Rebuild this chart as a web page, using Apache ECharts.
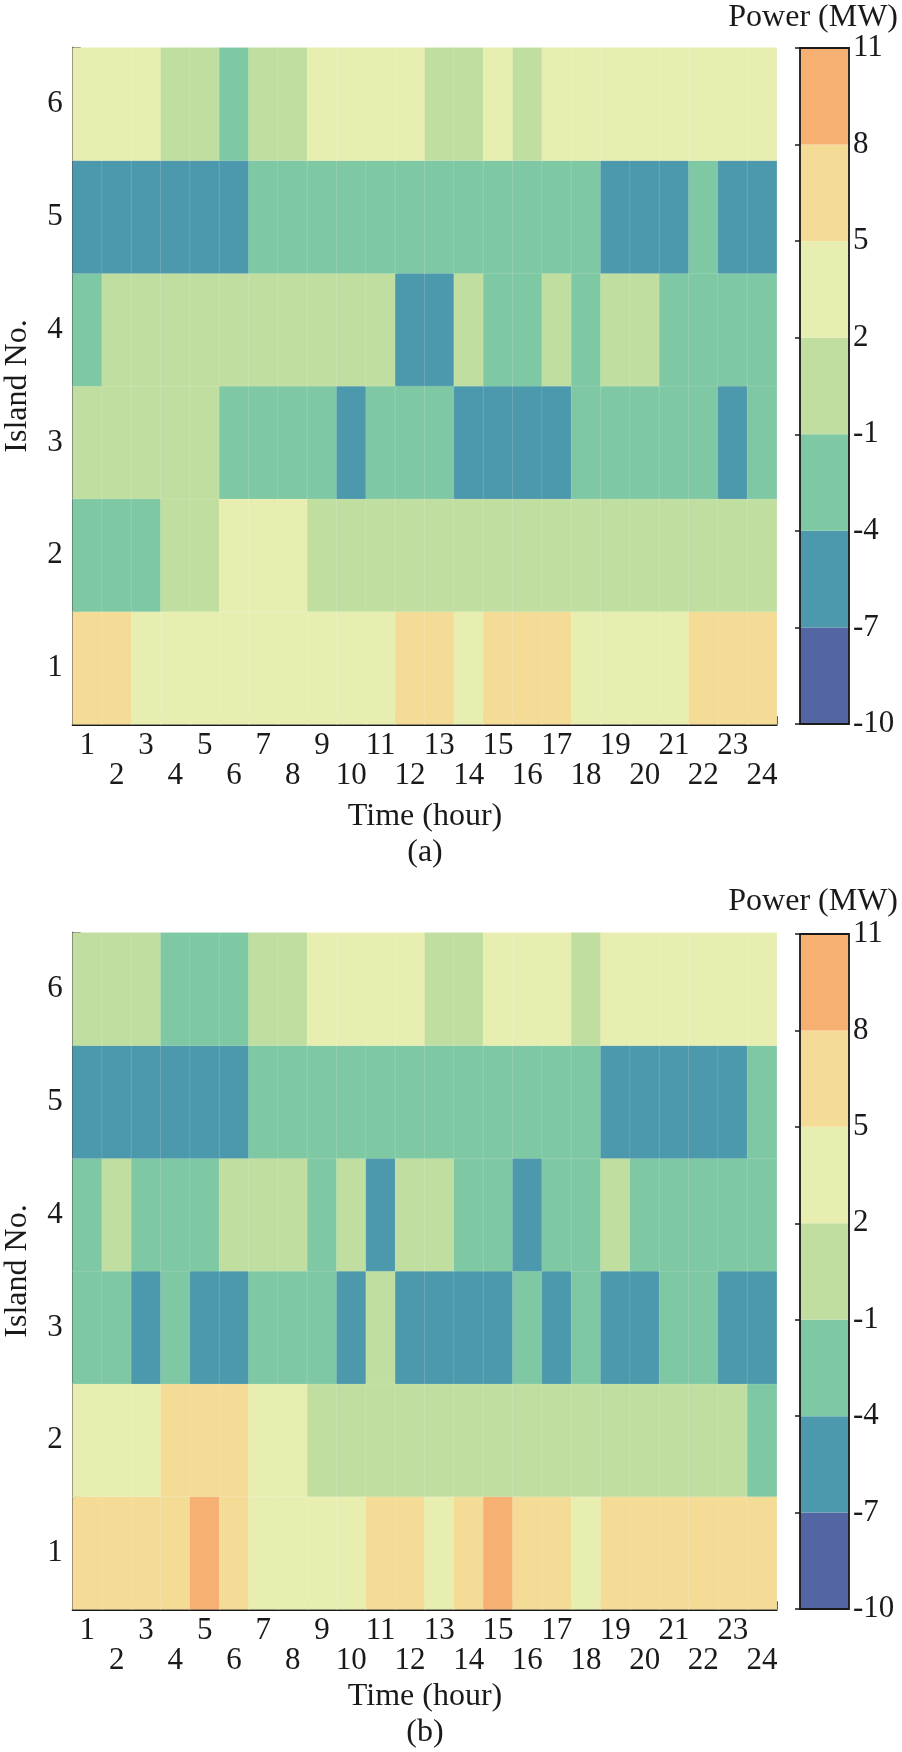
<!DOCTYPE html>
<html><head><meta charset="utf-8">
<script src="https://cdn.jsdelivr.net/npm/echarts@6/dist/echarts.min.js"></script>
<style>html,body{margin:0;padding:0;background:#fff}#c{width:902px;height:1752px}</style>
</head><body><div id="c"></div>
<script>
// ---- categories ----
const hours = ['1','2','3','4','5','6','7','8','9','10','11','12','13','14','15','16','17','18','19','20','21','22','23','24'];
const islands = ['1','2','3','4','5','6'];
// ---- colour scale (bin edges, MW) ----
const binEdges = [-10, -7, -4, -1, 2, 5, 8, 11];
const binColors = ['#5366a3', '#4c98ac', '#7ec8a4', '#c0dea0', '#e8eeb0', '#f4dc96', '#f5b072'];

// ---- panel (a): power per island, hours 1..24 ----
const a_island1 = [6.5,6.5,3.5,3.5,3.5,3.5,3.5,3.5,3.5,3.5,3.5,6.5,6.5,3.5,6.5,6.5,6.5,3.5,3.5,3.5,3.5,6.5,6.5,6.5];
const a_island2 = [-2.5,-2.5,-2.5,0.5,0.5,3.5,3.5,3.5,0.5,0.5,0.5,0.5,0.5,0.5,0.5,0.5,0.5,0.5,0.5,0.5,0.5,0.5,0.5,0.5];
const a_island3 = [0.5,0.5,0.5,0.5,0.5,-2.5,-2.5,-2.5,-2.5,-5.5,-2.5,-2.5,-2.5,-5.5,-5.5,-5.5,-5.5,-2.5,-2.5,-2.5,-2.5,-2.5,-5.5,-2.5];
const a_island4 = [-2.5,0.5,0.5,0.5,0.5,0.5,0.5,0.5,0.5,0.5,0.5,-5.5,-5.5,0.5,-2.5,-2.5,0.5,-2.5,0.5,0.5,-2.5,-2.5,-2.5,-2.5];
const a_island5 = [-5.5,-5.5,-5.5,-5.5,-5.5,-5.5,-2.5,-2.5,-2.5,-2.5,-2.5,-2.5,-2.5,-2.5,-2.5,-2.5,-2.5,-2.5,-5.5,-5.5,-5.5,-2.5,-5.5,-5.5];
const a_island6 = [3.5,3.5,3.5,0.5,0.5,-2.5,0.5,0.5,3.5,3.5,3.5,3.5,0.5,0.5,3.5,0.5,3.5,3.5,3.5,3.5,3.5,3.5,3.5,3.5];

// ---- panel (b) ----
const b_island1 = [6.5,6.5,6.5,6.5,9.5,6.5,3.5,3.5,3.5,3.5,6.5,6.5,3.5,6.5,9.5,6.5,6.5,3.5,6.5,6.5,6.5,6.5,6.5,6.5];
const b_island2 = [3.5,3.5,3.5,6.5,6.5,6.5,3.5,3.5,0.5,0.5,0.5,0.5,0.5,0.5,0.5,0.5,0.5,0.5,0.5,0.5,0.5,0.5,0.5,-2.5];
const b_island3 = [-2.5,-2.5,-5.5,-2.5,-5.5,-5.5,-2.5,-2.5,-2.5,-5.5,0.5,-5.5,-5.5,-5.5,-5.5,-2.5,-5.5,-2.5,-5.5,-5.5,-2.5,-2.5,-5.5,-5.5];
const b_island4 = [-2.5,0.5,-2.5,-2.5,-2.5,0.5,0.5,0.5,-2.5,0.5,-5.5,0.5,0.5,-2.5,-2.5,-5.5,-2.5,-2.5,0.5,-2.5,-2.5,-2.5,-2.5,-2.5];
const b_island5 = [-5.5,-5.5,-5.5,-5.5,-5.5,-5.5,-2.5,-2.5,-2.5,-2.5,-2.5,-2.5,-2.5,-2.5,-2.5,-2.5,-2.5,-2.5,-5.5,-5.5,-5.5,-5.5,-5.5,-2.5];
const b_island6 = [0.5,0.5,0.5,-2.5,-2.5,-2.5,0.5,0.5,3.5,3.5,3.5,3.5,0.5,0.5,3.5,3.5,3.5,0.5,3.5,3.5,3.5,3.5,3.5,3.5];

const panelA = [a_island1, a_island2, a_island3, a_island4, a_island5, a_island6];
const panelB = [b_island1, b_island2, b_island3, b_island4, b_island5, b_island6];

function toCells(rows) {
  const out = [];
  rows.forEach((row, yi) => row.forEach((v, xi) => out.push([xi, yi, v])));
  return out;
}
const barData = binEdges.slice(0, -1).map((e, i) => [e, binEdges[i + 1], 0.5]);

const FONT = "'Liberation Serif', 'Times New Roman', serif";
const INK = '#1a1a1a';

const mainGrids = [
  { left: 72.7, top: 47.7, width: 704, height: 676.6 },
  { left: 72.7, top: 932.7, width: 704, height: 676.6 }
];
const barGrids = [
  { left: 800, top: 48, width: 49, height: 676 },
  { left: 800, top: 934, width: 49, height: 675 }
];

function xAxisFor(gi) {
  return {
    type: 'category', gridIndex: gi, data: hours, boundaryGap: true,
    axisLine: { show: true, lineStyle: { color: INK, width: 2 } },
    axisTick: { show: true, inside: true, length: 8, lineStyle: { color: INK, width: 1.5 }, interval: 0 },
    axisLabel: {
      interval: 0, margin: 7, fontFamily: FONT, fontSize: 31, lineHeight: 30, color: INK,
      formatter: (v, i) => (i % 2 === 0 ? v : '\n' + v)
    },
    splitLine: { show: false }
  };
}
function yAxisFor(gi) {
  return {
    type: 'category', gridIndex: gi, data: islands, boundaryGap: true,
    axisLine: { show: true, lineStyle: { color: INK, width: 2 } },
    axisTick: { show: true, inside: true, length: 8, lineStyle: { color: INK, width: 1.5 }, interval: 0 },
    axisLabel: { interval: 0, margin: 10, fontFamily: FONT, fontSize: 31, color: INK },
    splitLine: { show: false }
  };
}
function barXAxis(gi) {
  return { type: 'value', gridIndex: gi, min: 0, max: 1, show: false };
}
function barYAxis(gi) {
  return {
    type: 'value', gridIndex: gi, position: 'right', min: -10, max: 11, interval: 3,
    axisLine: { show: false },
    axisTick: { show: true, inside: true, length: 5, lineStyle: { color: INK, width: 1.5 } },
    axisLabel: { margin: 4, fontFamily: FONT, fontSize: 31, color: INK },
    splitLine: { show: false }
  };
}
function heat(gi, rows) {
  return {
    type: 'heatmap', xAxisIndex: gi, yAxisIndex: gi, data: toCells(rows),
    itemStyle: { borderColor: 'rgba(255,255,255,0.22)', borderWidth: 0.6 },
    emphasis: { disabled: true }
  };
}
function colorbar(gi) {
  return {
    type: 'custom', xAxisIndex: gi, yAxisIndex: gi, data: barData,
    encode: { x: 2, y: [0, 1] },
    renderItem: (params, api) => {
      const lo = api.value(0), hi = api.value(1);
      const pTop = api.coord([0.5, hi]);
      const pBot = api.coord([0.5, lo]);
      const cs = params.coordSys;
      return {
        type: 'rect',
        shape: { x: cs.x, y: pTop[1], width: cs.width, height: pBot[1] - pTop[1] },
        style: { fill: binColors[params.dataIndex] }
      };
    },
    silent: true
  };
}
function txt(text, x, y, align, rot) {
  return {
    type: 'text', x: x, y: y, rotation: rot || 0, z: 100,
    style: {
      text: text, font: '32px ' + FONT, fill: INK,
      align: align, verticalAlign: 'middle', textAlign: align, textVerticalAlign: 'middle'
    }
  };
}
function frame(g) {
  return {
    type: 'rect', z: 100,
    shape: { x: g.left, y: g.top, width: g.width, height: g.height },
    style: { fill: 'none', stroke: INK, lineWidth: 1.8 }
  };
}

const chart = echarts.init(document.getElementById('c'), null, { renderer: 'canvas' });
chart.setOption({
  backgroundColor: '#fff',
  animation: false,
  grid: [...mainGrids, ...barGrids],
  xAxis: [xAxisFor(0), xAxisFor(1), barXAxis(2), barXAxis(3)],
  yAxis: [yAxisFor(0), yAxisFor(1), barYAxis(2), barYAxis(3)],
  visualMap: [{
    type: 'piecewise', show: false, seriesIndex: [0, 1], dimension: 2,
    pieces: binColors.map((c, i) => ({ gte: binEdges[i], lt: binEdges[i + 1], color: c }))
  }],
  series: [heat(0, panelA), heat(1, panelB), colorbar(2), colorbar(3)],
  graphic: [
    txt('Power (MW)', 898, 18, 'right'),
    txt('Power (MW)', 898, 902, 'right'),
    txt('Time (hour)', 425, 816.7, 'center'),
    txt('Time (hour)', 425, 1697, 'center'),
    txt('(a)', 425, 853, 'center'),
    txt('(b)', 425, 1733, 'center'),
    txt('Island No.', 18, 386, 'center', Math.PI / 2),
    txt('Island No.', 18, 1271, 'center', Math.PI / 2),
    frame(barGrids[0]),
    frame(barGrids[1])
  ]
});
</script></body></html>
